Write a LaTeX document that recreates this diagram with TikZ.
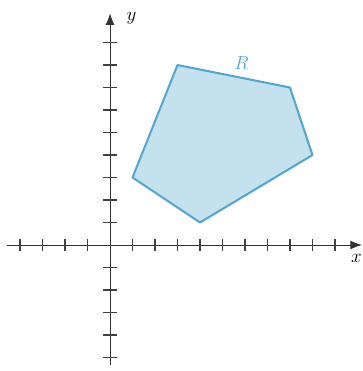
\documentclass[tikz,border=0pt]{standalone}
\usepackage{tikz}
\usetikzlibrary{arrows.meta}
\definecolor{regionfill}{RGB}{196,226,237}
\definecolor{regionedge}{RGB}{84,166,206}
\tikzset{
  axisline/.style={line width=0.6pt, draw=black!80, -{Latex[length=2.6mm,width=2mm]}},
  tickmark/.style={line width=0.9pt, draw=black!75},
  region/.style={fill=regionfill, draw=regionedge, line width=1.3pt, line join=round},
  axlbl/.style={font=\large, inner sep=0pt},
  rlbl/.style={font=\large, text=regionedge, inner sep=0pt}
}
\begin{document}
\begin{tikzpicture}[x=0.5cm,y=0.5cm]
  \useasboundingbox (-4.89,-5.6) rectangle (11.24,10.89);
  % axes
  \coordinate (xstart) at (-4.6,0);
  \coordinate (xend) at (11.2,0);
  \coordinate (ystart) at (0,-5.35);
  \coordinate (yend) at (0,10.3);
  \draw[axisline] (xstart) -- (xend);
  \draw[axisline] (ystart) -- (yend);
  \foreach \t in {-4,...,-1,1,2,...,10} {
    \draw[tickmark] (\t,-0.28) -- (\t,0.28);
  }
  \foreach \t in {-5,...,-1,1,2,...,9} {
    \draw[tickmark] (-0.3,\t) -- (0.3,\t);
  }
  \node[axlbl] (ylab) at (0.95,10.1) {$y$};
  \node[axlbl] (xlab) at (10.95,-0.6) {$x$};
  % region R
  \coordinate (P1) at (3,8);
  \coordinate (P2) at (8,7);
  \coordinate (P3) at (9,4);
  \coordinate (P4) at (4,1);
  \coordinate (P5) at (1,3);
  \draw[region] (P1) -- (P2) -- (P3) -- (P4) -- (P5) -- cycle;
  \node[rlbl] (rlab) at (5.85,8.1) {$R$};
\end{tikzpicture}
\end{document}
